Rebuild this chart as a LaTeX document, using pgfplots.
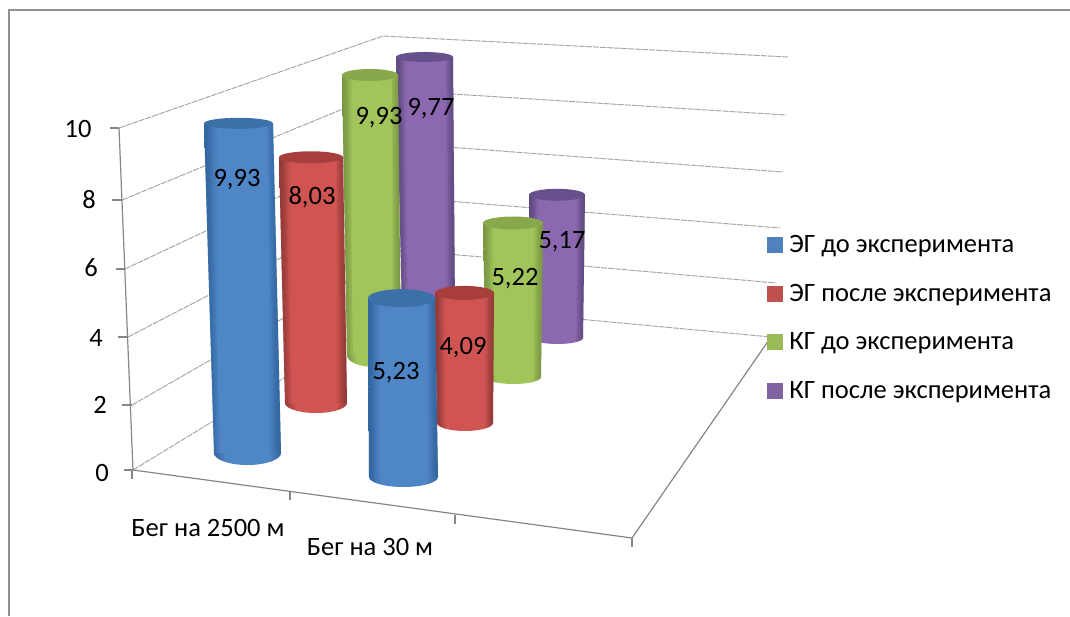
\documentclass[border=0pt]{standalone}
\usepackage{pgfplots}
\usepackage{pgfplotstable}
\pgfplotsset{compat=1.18}
\usepackage{fontspec}
\setmainfont{Carlito}

\definecolor{ser0}{HTML}{4F81BD}
\definecolor{ser1}{HTML}{C0504D}
\definecolor{ser2}{HTML}{9BBB59}
\definecolor{ser3}{HTML}{8064A2}
\definecolor{cap0}{HTML}{3B70A8}
\definecolor{cap1}{HTML}{A83E3C}
\definecolor{cap2}{HTML}{89A84C}
\definecolor{cap3}{HTML}{67518C}
\definecolor{edge0}{HTML}{33669F}
\definecolor{edge1}{HTML}{933A38}
\definecolor{edge2}{HTML}{7A9644}
\definecolor{edge3}{HTML}{5F4A80}
\definecolor{body0}{HTML}{4F86C6}
\definecolor{body1}{HTML}{D05552}
\definecolor{body2}{HTML}{A1C55A}
\definecolor{body3}{HTML}{8C68B0}
\definecolor{gridc}{HTML}{A8A8A8}
\definecolor{framec}{HTML}{909090}

% Side shading of a cylinder body, dark at the rims and light in the middle
\pgfdeclarehorizontalshading{cyl0}{100bp}{color(0bp)=(edge0); color(25bp)=(edge0); color(34bp)=(body0); color(66bp)=(body0); color(75bp)=(edge0); color(100bp)=(edge0)}
\pgfdeclarehorizontalshading{cyl1}{100bp}{color(0bp)=(edge1); color(25bp)=(edge1); color(34bp)=(body1); color(66bp)=(body1); color(75bp)=(edge1); color(100bp)=(edge1)}
\pgfdeclarehorizontalshading{cyl2}{100bp}{color(0bp)=(edge2); color(25bp)=(edge2); color(34bp)=(body2); color(66bp)=(body2); color(75bp)=(edge2); color(100bp)=(edge2)}
\pgfdeclarehorizontalshading{cyl3}{100bp}{color(0bp)=(edge3); color(25bp)=(edge3); color(34bp)=(body3); color(66bp)=(body3); color(75bp)=(edge3); color(100bp)=(edge3)}

% Ends of a cylinder, unit circles stretched through mark options
\pgfdeclareplotmark{cylfoot}{\shade (0pt,0pt) circle (1pt);}
\pgfdeclareplotmark{cylhead}{\fill (0pt,0pt) circle (1pt);}

% One row per cylinder, painted from back to front.
% s: series; xtl,xtr,xbl,xbr: rim positions at top and foot; base: foot level;
% unit: length of one value unit at that depth; val: the value;
% capt,capb: half heights of the ellipses; lx,ly: place of the value label
\pgfplotstableread{
s xtl xtr xbl xbr base unit val capt capb lx ly
3 396 453 402 455 311 26.0 9.77 5 8 431 109
2 342 398 347 401 355 28.2 9.93 6 12 379 118
1 279 343 285 347 403 30.6 8.03 6 10 312 197
0 204 273 214 281 453 33.2 9.93 5.5 12 237 180
3 529 585 532 583 338 27.7 5.17 6 6 562 242
2 483 543 486 541 377 29.5 5.22 6.5 7 515 279
1 435 494 437 493 423 31.8 4.09 7 8 463 348
0 368 435 369 438 477 34.2 5.23 9 10 396 373
}\cyltable

\newcommand\cylcell[3]{\pgfplotstablegetelem{#1}{#2}\of\cyltable\let#3\pgfplotsretval}
\newcommand\chartfont{\fontsize{26.5}{32}\selectfont}

\begin{document}
\begin{tikzpicture}
\path (0pt,0pt) rectangle (1070pt,616pt);
\begin{axis}[
  at={(0pt,0pt)}, anchor=south west,
  width=1070pt, height=616pt, scale only axis,
  xmin=0, xmax=1070, ymin=0, ymax=616, y dir=reverse,
  hide axis, clip marker paths=true,
  legend style={draw=none, fill=none, at={(0.7168,0.6209)}, anchor=north west,
    font=\chartfont, row sep=26pt, inner sep=0pt, outer sep=0pt},
  legend cell align=left,
  every axis plot/.append style={mark=none},
]
% legend
\addlegendimage{legend image code/.code={\fill[ser0] (0pt,-7.5pt) rectangle (15pt,7.5pt); \path (20pt,0pt);}}
\addlegendentry{ЭГ до  эксперимента}
\addlegendimage{legend image code/.code={\fill[ser1] (0pt,-7.5pt) rectangle (15pt,7.5pt); \path (20pt,0pt);}}
\addlegendentry{ЭГ после эксперимента}
\addlegendimage{legend image code/.code={\fill[ser2] (0pt,-7.5pt) rectangle (15pt,7.5pt); \path (20pt,0pt);}}
\addlegendentry{КГ до эксперимента}
\addlegendimage{legend image code/.code={\fill[ser3] (0pt,-7.5pt) rectangle (15pt,7.5pt); \path (20pt,0pt);}}
\addlegendentry{КГ после эксперимента}

% chart frame
\addplot[framec, line width=2pt] coordinates {(9,616) (9,10) (1070,10)};

% walls and floor
\pgfplotsset{wall/.style={gridc, line width=1pt, dash pattern=on 6pt off 1pt}}
\addplot[wall] coordinates {(119,128) (383,36) (788,57)};
\addplot[wall] coordinates {(122,200) (389,90) (786,115)};
\addplot[wall] coordinates {(125,269) (393,143) (783,172)};
\addplot[wall] coordinates {(128,337) (398,197) (780,228)};
\addplot[wall] coordinates {(132,405) (402,250) (776,283)};
\addplot[wall] coordinates {(133,470) (407,303) (771,337)};
% value axis, depth edge, front and right floor edges
\addplot[gridc!80!black, line width=1.2pt] coordinates {(119,128) (133,470)};
\addplot[gridc!80!black, line width=1.2pt] coordinates {(133,470) (632,538) (771,337)};
\addplot[gridc!80!black, line width=1.2pt] coordinates {(110,128) (119,128)};
\addplot[gridc!80!black, line width=1.2pt] coordinates {(112,200) (122,200)};
\addplot[gridc!80!black, line width=1.2pt] coordinates {(116,269) (125,269)};
\addplot[gridc!80!black, line width=1.2pt] coordinates {(118,337) (128,337)};
\addplot[gridc!80!black, line width=1.2pt] coordinates {(122,405) (132,405)};
\addplot[gridc!80!black, line width=1.2pt] coordinates {(124,470) (133,470)};
\addplot[gridc!80!black, line width=1.2pt] coordinates {(132,470) (132,479)};
\addplot[gridc!80!black, line width=1.2pt] coordinates {(290,492) (290,500)};
\addplot[gridc!80!black, line width=1.2pt] coordinates {(455,515) (455,524)};
\addplot[gridc!80!black, line width=1.2pt] coordinates {(632,538) (632,547)};

% cylinders
\pgfplotsinvokeforeach{0,...,7}{
  \cylcell{#1}{s}\cS \cylcell{#1}{xtl}\xtl \cylcell{#1}{xtr}\xtr
  \cylcell{#1}{xbl}\xbl \cylcell{#1}{xbr}\xbr \cylcell{#1}{base}\ybs
  \cylcell{#1}{unit}\yun \cylcell{#1}{val}\yvl \cylcell{#1}{capt}\capt \cylcell{#1}{capb}\capb
  \pgfmathsetmacro\ytop{\ybs-\yun*\yvl}
  \pgfmathsetmacro\xtc{(\xtl+\xtr)/2}
  \pgfmathsetmacro\xbc{(\xbl+\xbr)/2}
  \pgfmathsetmacro\rtop{(\xtr-\xtl)/2}
  \pgfmathsetmacro\rbot{(\xbr-\xbl)/2}
  \pgfmathsetmacro\ltin{\xtl+3}
  \pgfmathsetmacro\lbin{\xbl+3}
  \pgfmathsetmacro\rtin{\xtr-3}
  \pgfmathsetmacro\rbin{\xbr-3}
  \pgfmathsetmacro\ltn{\xtl+1.5}
  \pgfmathsetmacro\lbn{\xbl+1.5}
  \pgfmathsetmacro\rtn{\xtr-1.5}
  \pgfmathsetmacro\rbn{\xbr-1.5}
  \edef\drawcyl{%
    \noexpand\addplot[draw=none, only marks, mark=cylfoot, mark size=1pt,
      mark options={xscale=\rbot, yscale=\capb, shading=cyl\cS, draw=none}]
      coordinates {(\xbc,\ybs)};
    \noexpand\addplot[draw=none, shade, shading=cyl\cS]
      coordinates {(\xtl,\ytop) (\xtr,\ytop) (\xbr,\ybs) (\xbl,\ybs)} --cycle;
    \noexpand\addplot[edge\cS, line width=6pt, opacity=0.25]
      coordinates {(\ltin,\ytop) (\lbin,\ybs)};
    \noexpand\addplot[edge\cS, line width=6pt, opacity=0.25]
      coordinates {(\rtin,\ytop) (\rbin,\ybs)};
    \noexpand\addplot[edge\cS, line width=3pt, opacity=0.3]
      coordinates {(\ltn,\ytop) (\lbn,\ybs)};
    \noexpand\addplot[edge\cS, line width=3pt, opacity=0.3]
      coordinates {(\rtn,\ytop) (\rbn,\ybs)};
    \noexpand\addplot[draw=none, only marks, mark=cylhead, mark size=1pt,
      mark options={xscale=\rtop, yscale=\capt, fill=cap\cS, draw=none}]
      coordinates {(\xtc,\ytop)};
  }
  \drawcyl
}

% value labels
\addplot[draw=none, nodes near coords={\pgfmathprintnumber[assume math mode=true, use comma, fixed, fixed zerofill, precision=2]{\pgfplotspointmeta}},
  nodes near coords style={anchor=center, font=\chartfont, text=black, inner sep=0pt},
  point meta=explicit]
  table[x=lx, y=ly, meta=val] {\cyltable};

% tick labels
\node[font=\chartfont] at (axis cs:78,129) {10};
\node[font=\chartfont] at (axis cs:89,200) {8};
\node[font=\chartfont] at (axis cs:91,268) {6};
\node[font=\chartfont] at (axis cs:96,338) {4};
\node[font=\chartfont] at (axis cs:100,405) {2};
\node[font=\chartfont] at (axis cs:102,473) {0};
\node[font=\chartfont] at (axis cs:208,528) {Бег на 2500 м};
\node[font=\chartfont] at (axis cs:370,547) {Бег на 30 м};
\end{axis}
\end{tikzpicture}
\end{document}
